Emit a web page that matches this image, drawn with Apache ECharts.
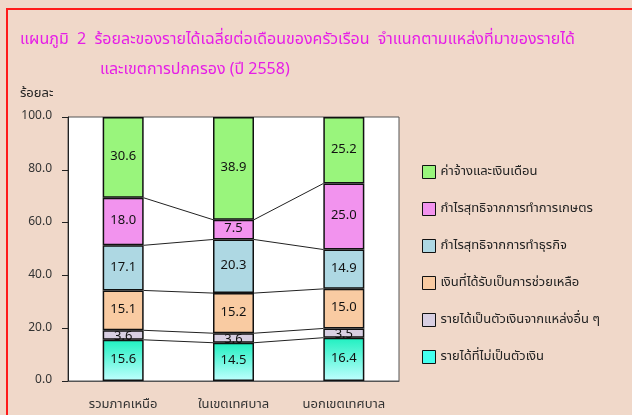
<!DOCTYPE html>
<html>
<head>
<meta charset="utf-8">
<script src="https://cdn.jsdelivr.net/npm/echarts@6/dist/echarts.min.js"></script>
<style>
  html, body { margin: 0; padding: 0; background: #f0d8c9; }
  #chart { width: 632px; height: 415px; }
</style>
</head>
<body>
<div id="chart"></div>
<script>
// categories (x axis)
const categories = ['รวมภาคเหนือ', 'ในเขตเทศบาล', 'นอกเขตเทศบาล'];
// income source shares, %
const nonMoney   = [15.6, 14.5, 16.4];
const otherMoney = [3.6, 3.6, 3.5];
const assistance = [15.1, 15.2, 15.0];
const business   = [17.1, 20.3, 14.9];
const farming    = [18.0, 7.5, 25.0];
const wages      = [30.6, 38.9, 25.2];
const yTicks = [0, 20, 40, 60, 80, 100];

const seriesNames = [
  'รายได้ที่ไม่เป็นตัวเงิน',
  'รายได้เป็นตัวเงินจากแหล่งอื่น ๆ',
  'เงินที่ได้รับเป็นการช่วยเหลือ',
  'กำไรสุทธิจากการทำธุรกิจ',
  'กำไรสุทธิจากการทำการเกษตร',
  'ค่าจ้างและเงินเดือน'
];
const seriesData = [nonMoney, otherMoney, assistance, business, farming, wages];
const seriesColors = [
  new echarts.graphic.LinearGradient(0, 0, 0, 1, [
    { offset: 0, color: '#1ff0c0' },
    { offset: 1, color: '#c0ffff' }
  ]),
  '#d8cfe2', '#f9cba2', '#aed8e3', '#f293ee', '#99f57c'
];
const legendColors = ['#44ffee', '#d8cfe2', '#f9cba2', '#aed8e3', '#f293ee', '#99f57c'];

const font = "Tahoma, 'Noto Sans Thai', 'DejaVu Sans', sans-serif";
const barW = 41;

const chart = echarts.init(document.getElementById('chart'));

const barSeries = seriesData.map((d, i) => ({
  name: seriesNames[i],
  type: 'bar',
  stack: 'total',
  barWidth: barW,
  data: d,
  z: 10 - i,
  itemStyle: { color: seriesColors[i], borderColor: '#111', borderWidth: 1.5 },
  label: {
    show: true,
    position: 'inside',
    // the thin slice's label sits a little low, as in the original
    offset: [0, i === 1 ? 2 : 0],
    formatter: p => p.value.toFixed(1),
    color: '#111',
    fontSize: 13,
    fontFamily: font
  }
}));

// series lines joining stack boundaries of neighbouring bars
const linkSeries = {
  type: 'custom',
  name: 'links',
  data: [[0], [1]],
  encode: { x: 0 },
  silent: true,
  z: 1,
  renderItem: (params, api) => {
    const i = api.value(0);
    let cumA = 0, cumB = 0;
    const children = [];
    for (let s = 0; s < seriesData.length - 1; s++) {
      cumA += seriesData[s][i];
      cumB += seriesData[s][i + 1];
      const a = api.coord([i, cumA]);
      const b = api.coord([i + 1, cumB]);
      children.push({
        type: 'line',
        shape: { x1: a[0] + barW / 2, y1: a[1], x2: b[0] - barW / 2, y2: b[1] },
        style: { stroke: '#222', lineWidth: 1 }
      });
    }
    return { type: 'group', children };
  }
};

chart.setOption({
  backgroundColor: '#f0d8c9',
  animation: false,
  title: [
    {
      text: 'แผนภูมิ  2  ร้อยละของรายได้เฉลี่ยต่อเดือนของครัวเรือน  จำแนกตามแหล่งที่มาของรายได้',
      left: 20, top: 33, padding: 0,
      textStyle: { color: '#e61ee6', fontSize: 16, fontWeight: 'normal', fontFamily: font }
    },
    {
      text: 'และเขตการปกครอง (ปี 2558)',
      left: 100, top: 63, padding: 0,
      textStyle: { color: '#e61ee6', fontSize: 16, fontWeight: 'normal', fontFamily: font }
    },
    {
      text: 'ร้อยละ',
      left: 20, top: 88, padding: 0,
      textStyle: { color: '#222', fontSize: 13, fontWeight: 'normal', fontFamily: font }
    }
  ],
  graphic: [
    {
      type: 'polyline',
      shape: { points: [[7, 420], [7, 9], [640, 9]] },
      style: { stroke: '#ff1a1a', lineWidth: 2, fill: null },
      silent: true
    }
  ],
  legend: {
    orient: 'vertical',
    left: 417,
    top: 160,
    itemWidth: 13,
    itemHeight: 13,
    itemGap: 23,
    icon: 'rect',
    textStyle: { color: '#222', fontSize: 13, fontFamily: font },
    data: seriesNames.map((n, i) => ({
      name: n,
      itemStyle: { color: legendColors[i], borderColor: '#111', borderWidth: 1 }
    })).reverse()
  },
  grid: {
    left: 68, right: 233, top: 117, bottom: 34,
    show: true,
    backgroundColor: '#ffffff',
    borderColor: '#555',
    borderWidth: 1
  },
  xAxis: {
    type: 'category',
    data: categories,
    axisLine: { show: true, lineStyle: { color: '#555' } },
    axisTick: { show: false },
    axisLabel: { color: '#333', fontSize: 13, fontFamily: font, margin: 18 }
  },
  yAxis: {
    type: 'value',
    min: yTicks[0],
    max: yTicks[yTicks.length - 1],
    interval: 20,
    splitLine: { show: false },
    axisLine: { show: true, lineStyle: { color: '#222' } },
    axisTick: { show: true, length: 6, lineStyle: { color: '#222' } },
    axisLabel: { color: '#333', fontSize: 12, fontFamily: font, margin: 16, formatter: v => v.toFixed(1) }
  },
  series: [...barSeries, linkSeries]
});
</script>
</body>
</html>
